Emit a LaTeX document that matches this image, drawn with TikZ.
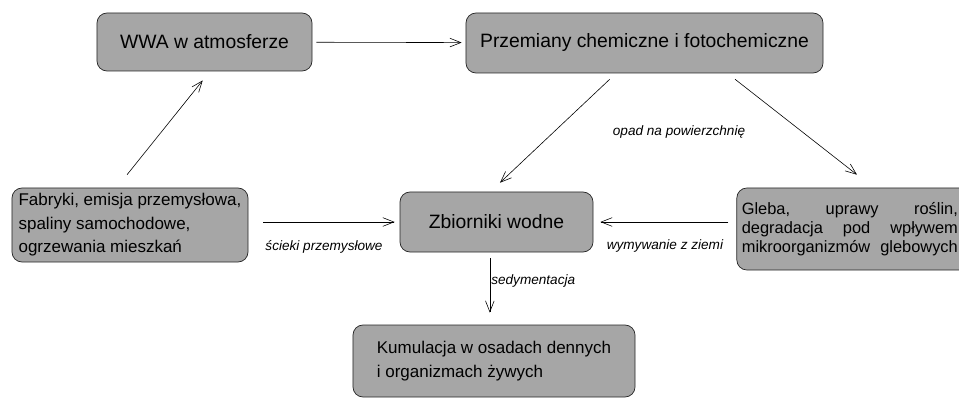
\documentclass[tikz,border=0pt]{standalone}
\usepackage{fontspec}
\setmainfont{Liberation Sans}
\usetikzlibrary{arrows.meta,positioning}
\tikzset{
  box/.style={draw=black!85,fill=black!35,rounded corners=0.3cm,line width=0.6pt,inner sep=0pt},
  title/.style={box,font=\fontsize{16.5}{20}\selectfont},
  arr/.style={-{Straight Barb[length=0.33cm,width=0.26cm]},line width=0.5pt},
  lbl/.style={font=\fontsize{11.6}{14}\selectfont\itshape,inner sep=1pt},
  every node/.style={font=\fontsize{14.5}{20}\selectfont}
}
\newcommand\fullline[1]{\makebox[6.48cm][l]{#1}}
\begin{document}
\begin{tikzpicture}[x=0.03cm,y=-0.03cm]
  \useasboundingbox (0,0) rectangle (959,399);
  % boxes
  \node[title,minimum width=6.45cm,minimum height=1.74cm] (wwa) at (204.5,42) {WWA w atmosferze};
  \node[title,minimum width=10.71cm,minimum height=1.8cm] (przem) at (644.5,43) {Przemiany chemiczne i fotochemiczne};
  \node[title,minimum width=5.79cm,minimum height=1.8cm] (zbior) at (496.5,222) {Zbiorniki wodne};
  \node[box,align=left,minimum width=7.08cm,minimum height=2.22cm] (fabr) at (130,225)
    {Fabryki, emisja przemysłowa,\\ spaliny samochodowe,\\ ogrzewania mieszkań};
  \node[box,align=left,minimum width=8.46cm,minimum height=2.16cm,font=\fontsize{14.5}{20.5}\selectfont] (kumul) at (494,361)
    {Kumulacja w osadach dennych\\ i organizmach żywych};
  % right edge of this box runs off the page
  \node[box,text width=6.7cm,inner xsep=0.15cm,minimum height=2.46cm,font=\fontsize{14}{16.5}\selectfont] (gleba) at (853.5,229)
    {\fullline{Gleba,\hfill uprawy\hfill roślin,}\\
     \fullline{degradacja\hfill pod\hfill wpływem}\\
     \fullline{mikroorganizmów\hfill glebowych}};
  % connectors
  \draw[arr,shorten <=0.12cm,shorten >=0.12cm] (wwa) -- (przem);
  \draw[arr,shorten <=0.5cm,shorten >=0.35cm] ([xshift=-0.4cm]fabr.north) -- ([xshift=0.165cm]wwa.south);
  \draw[arr,shorten <=0.26cm,shorten >=0.39cm] ([xshift=-0.855cm]przem.south) -- ([xshift=-0.18cm]zbior.north);
  \draw[arr,shorten <=0.29cm,shorten >=0.63cm] ([xshift=2.49cm]przem.south) -- ([xshift=0.6cm]gleba.north);
  \draw[arr,shorten <=0.45cm,shorten >=0.15cm] (zbior.west -| fabr.east) -- (zbior.west)
    node[lbl,midway,below=0.5cm] (scieki) {ścieki przemysłowe};
  \draw[arr,shorten <=0.24cm,shorten >=0.21cm] (zbior.east -| gleba.west) -- (zbior.east)
    node[lbl,midway,below=0.5cm] (wymyw) {wymywanie z ziemi};
  \draw[arr,shorten <=0.18cm,shorten >=0.36cm] ([xshift=-0.2cm]zbior.south) -- ([xshift=-0.2cm]zbior.south |- kumul.north)
    node[lbl,pos=0.4,right] (sedym) {sedymentacja};
  \node[lbl] (opad) at (679,132) {opad na powierzchnię};
\end{tikzpicture}
\end{document}
